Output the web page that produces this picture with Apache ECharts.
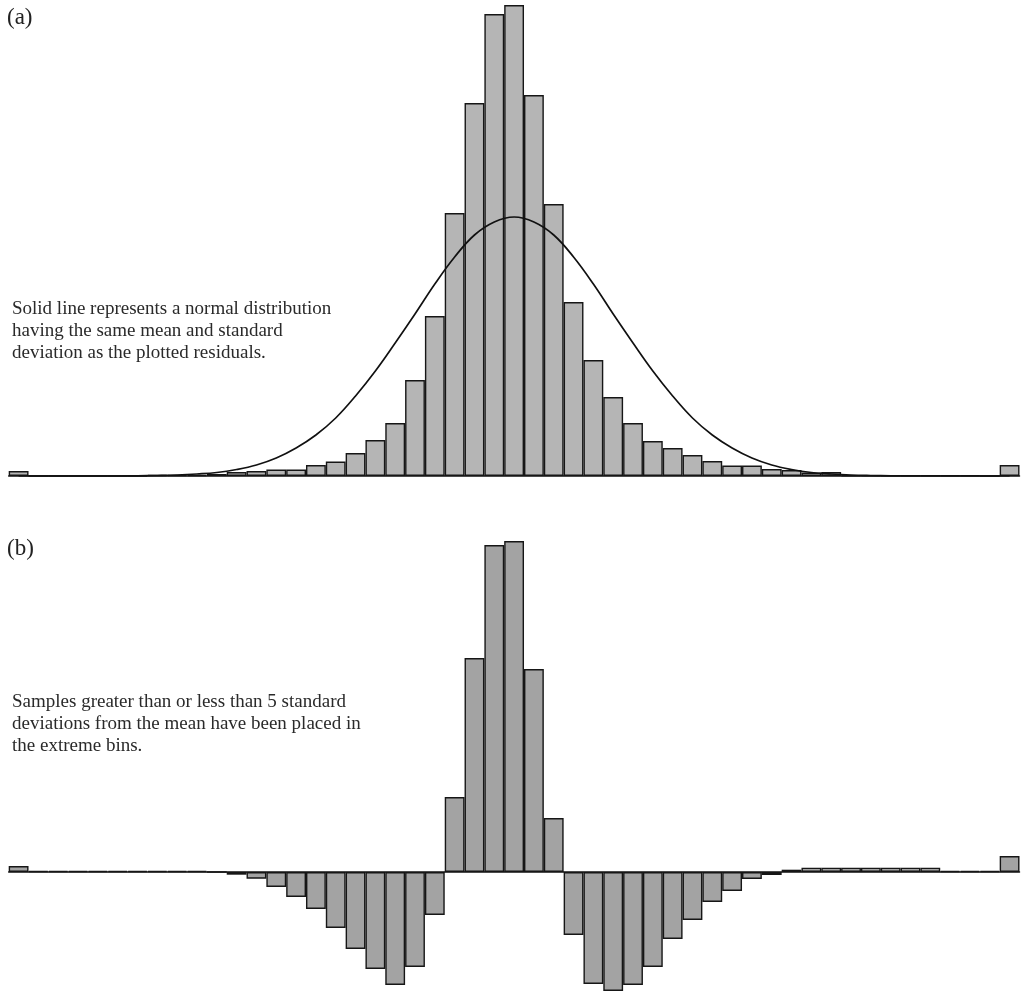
<!DOCTYPE html>
<html>
<head>
<meta charset="utf-8">
<script src="https://cdn.jsdelivr.net/npm/echarts@6/dist/echarts.min.js"></script>
<style>
  html, body { margin: 0; padding: 0; background: #fff; }
  #main { width: 1029px; height: 992px; }
</style>
</head>
<body>
<div id="main"></div>
<script>
// 51 bins, -5 to +5 standard deviations, extreme bins hold the outliers
var bins = [];
for (var i = 0; i < 51; i++) { bins.push(String(i)); }

// (a) residual histogram
var histValues = [
  5, 0, 0, 0, 0, 0, 0, 1, 1, 1,
  2, 4, 5, 6.5, 6.5, 11, 14.5, 23, 36, 53,
  96, 160, 263, 373, 462, 471, 381, 272, 174, 116,
  79, 53, 35, 28, 21, 15, 10.5, 10.5, 7, 6,
  3.5, 4, 0.5, 0.5, 0.5, 0.5, 0.5, 0.5, 0.5, 0,
  11
];

// (a) normal curve with same mean / sd, read at bin centres
var normalValues = [
  0, 0, 0, 0, 0, 0, 0.2, 0.5, 1, 2,
  3.5, 6.5, 11, 18, 28, 41, 58, 80, 105, 133,
  162, 192, 219, 241, 254, 259, 254, 241, 219, 192,
  162, 133, 105, 80, 58, 41, 28, 18, 11, 6.5,
  3.5, 2, 1, 0.5, 0.2, 0, 0, 0, 0, 0,
  0
];

// (b) histogram minus normal
var diffValues = [
  6, 1, 1, 1, 1, 1, 1, 1, 1, 1,
  0, -2.7, -6.7, -15, -25, -37, -56, -77, -97, -113,
  -95, -43, 75, 214, 327, 331, 203, 54, -63, -112,
  -119, -113, -95, -67, -48, -30, -19, -7, -3, 2.3,
  4.3, 4.3, 4.3, 4.3, 4.3, 4.3, 4.3, 1, 1, 1,
  16
];

var noteA = ["Solid line represents a normal distribution",
             "having the same mean and standard",
             "deviation as the plotted residuals."];
var noteB = ["Samples greater than or less than 5 standard",
             "deviations from the mean have been placed in",
             "the extreme bins."];

var chart = echarts.init(document.getElementById('main'));
var serif = '"Liberation Serif", "DejaVu Serif", serif';

var xAx = function (gi) {
  return {
    type: 'category', gridIndex: gi, data: bins,
    axisLine: { show: true, onZero: true, lineStyle: { color: '#111', width: 1.5 } },
    axisTick: { show: false }, axisLabel: { show: false }, splitLine: { show: false }
  };
};
var yAx = function (gi, mn, mx) {
  return {
    type: 'value', gridIndex: gi, min: mn, max: mx, show: false,
    splitLine: { show: false }
  };
};
var barStyle = function (c) {
  return { color: c, borderColor: '#161616', borderWidth: 1.4 };
};

var option = {
  animation: false,
  backgroundColor: '#fff',
  grid: [
    { left: 8.7, right: 9.5, top: 0, height: 476 },
    { left: 8.7, right: 9.5, top: 500, height: 492 }
  ],
  xAxis: [xAx(0), xAx(1)],
  yAxis: [yAx(0, 0, 476), yAx(1, -120, 372)],
  graphic: [
    { type: 'text', left: 7, top: 6, style: { text: '(a)', font: '23px ' + serif, fill: '#222' } },
    { type: 'text', left: 7, top: 537, style: { text: '(b)', font: '23px ' + serif, fill: '#222' } },
    { type: 'text', left: 12, top: 298, style: { text: noteA.join('\n'), font: '19px ' + serif, lineHeight: 22, fill: '#2a2a2a' } },
    { type: 'text', left: 12, top: 691, style: { text: noteB.join('\n'), font: '19px ' + serif, lineHeight: 22, fill: '#2a2a2a' } }
  ],
  series: [
    {
      type: 'bar', xAxisIndex: 0, yAxisIndex: 0, data: histValues,
      barCategoryGap: '0%', itemStyle: barStyle('#b5b5b5')
    },
    {
      type: 'line', xAxisIndex: 0, yAxisIndex: 0, data: normalValues,
      smooth: 0.4, showSymbol: false, z: 5,
      lineStyle: { color: '#111', width: 1.7 }
    },
    {
      type: 'bar', xAxisIndex: 1, yAxisIndex: 1, data: diffValues,
      barCategoryGap: '0%', itemStyle: barStyle('#a3a3a3')
    }
  ]
};
chart.setOption(option);
</script>
</body>
</html>
